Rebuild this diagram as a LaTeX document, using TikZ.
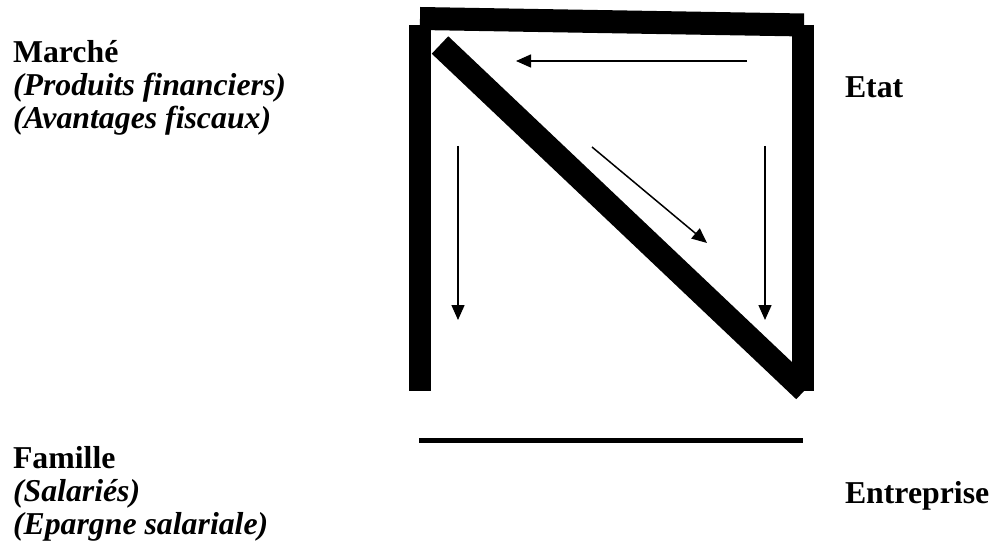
\documentclass[tikz,border=0pt]{standalone}
\usepackage{fontspec}
\setmainfont{Liberation Serif}
\usetikzlibrary{arrows.meta}
\begin{document}
\begin{tikzpicture}[x=1pt,y=-1pt,
  lbl/.style={anchor=base west,inner sep=0pt,outer sep=0pt,font=\fontsize{31.8}{33}\selectfont\bfseries},
  lbli/.style={lbl,font=\fontsize{31.8}{33}\selectfont\bfseries\itshape},
  bar/.style={line width=23pt,line cap=butt},
  thin/.style={line width=5pt,line cap=butt},
  flow/.style={line width=1.5pt,-{Triangle[length=15pt,width=13pt]}}]
\fill[white] (0,0) rectangle (992,548);
\useasboundingbox (0,0) rectangle (992,548);
% labels
\node[lbl]  (marche)  at (13,63)  {Marché};
\node[lbli] (produits) at (13,96) {(Produits financiers)};
\node[lbli] (avant)   at (13,129) {(Avantages fiscaux)};
\node[lbl]  (etat)    at (845,98) {Etat};
\node[lbl]  (famille) at (13,468) {Famille};
\node[lbli] (salaries) at (13,501) {(Salariés)};
\node[lbli] (epargne) at (13,534) {(Epargne salariale)};
\node[lbl]  (entreprise) at (845,503) {Entreprise};
% frame bars
\coordinate (tl) at (420,18.5);
\coordinate (tr) at (804,25);
\draw[bar] (tl) -- (tr);
\coordinate (lt) at (420,25);
\coordinate (lb) at (420,391);
\draw[bar,line width=22pt] (lt) -- (lb);
\coordinate (rt) at (803,25);
\coordinate (rb) at (803,391);
\draw[bar,line width=22pt] (rt) -- (rb);
\coordinate (dt) at (440,45);
\coordinate (db) at (804.5,390.5);
\draw[bar,line width=24pt] (dt) -- (db);
\coordinate (bl) at (419,440.5);
\coordinate (br) at (803,440.5);
\draw[thin] (bl) -- (br);
% arrows
\coordinate (h1) at (747,61);
\coordinate (h2) at (516,61);
\draw[flow] (h1) -- (h2);
\coordinate (d1) at (592,147);
\coordinate (d2) at (707,243);
\draw[flow] (d1) -- (d2);
\coordinate (l1) at (458,146);
\coordinate (l2) at (458,320);
\draw[flow] (l1) -- (l2);
\coordinate (r1) at (765,146);
\coordinate (r2) at (765,320);
\draw[flow] (r1) -- (r2);
\end{tikzpicture}
\end{document}
